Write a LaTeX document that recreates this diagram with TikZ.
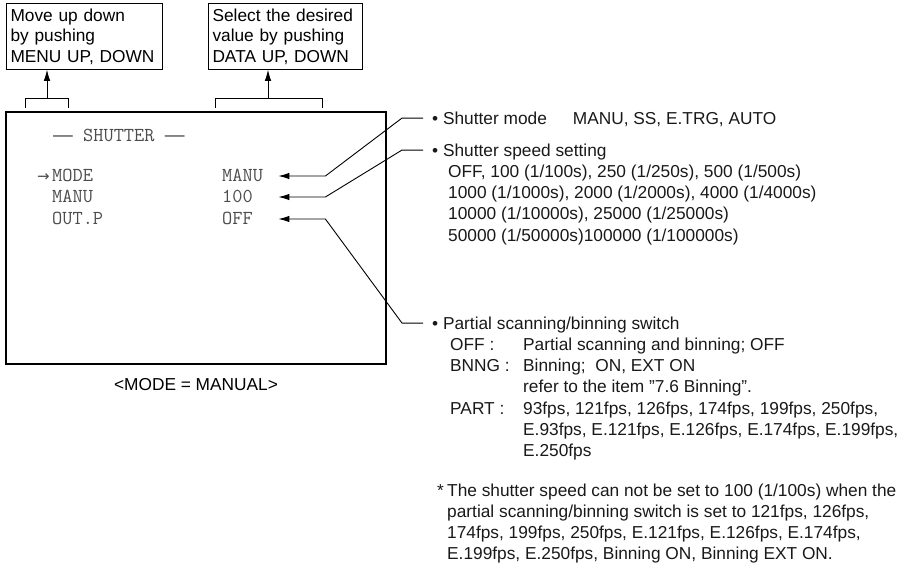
\documentclass[tikz,border=0pt]{standalone}
\usepackage{fontspec}
\setmainfont{Liberation Sans}
\newfontfamily\arrowfont{DejaVu Sans}
\usepackage{tikz}
\usetikzlibrary{positioning,arrows.meta}

\begin{document}
\begin{tikzpicture}[
x=1pt,y=-1pt,
tipbox/.style={
  draw,
  line width=1pt,
  anchor=north west,
  align=left,
  text width=#1,
  inner xsep=4pt,
  inner ysep=5pt,
  font=\fontsize{17.3}{20.5}\selectfont
},
screen/.style={
  draw,
  line width=1.6pt,
  minimum width=380pt,
  minimum height=252pt
},
menu/.style={
  anchor=base west,
  inner sep=0pt,
  text height=11pt,
  text depth=0pt,
  text=black!70,
  font=\fontsize{19.8}{21}\ttfamily
},
value/.style={
  menu,
  text width=56pt
},
head/.style={
  anchor=base west,
  inner xsep=9pt,
  inner ysep=0pt,
  text height=12.5pt,
  text depth=0pt,
  text=black!90,
  font=\fontsize{17.3}{21.2}\selectfont
},
body/.style={
  anchor=base west,
  inner sep=0pt,
  text=black!90,
  font=\fontsize{17.3}{21.2}\selectfont
},
pointer/.style={
  line width=0.9pt,
  -{Latex[length=11pt,width=6.5pt]}
},
bracket/.style={
  line width=1pt
}
]
\useasboundingbox (0,0) rectangle (914,566);

\node[tipbox=148pt] (menubtn) at (6,3)
  {Move up down\\by pushing\\MENU UP, DOWN};
\node[tipbox=146pt] (databtn) at (208,3)
  {Select the desired\\value by pushing\\DATA UP, DOWN};

\node[screen] (scr) at (196,238) {};
\node[below=10pt of scr,font=\fontsize{17.3}{21}\selectfont] (capt)
  {<MODE = MANUAL>};

\draw[bracket] (25,108) -- (25,98) -- (68,98) -- (68,108);
\draw[bracket] (215,108) -- (215,98) -- (322,98) -- (322,108);
\coordinate (mb) at (47,98);
\coordinate (db) at (268,98);
\draw[pointer] (mb) -- (mb |- menubtn.south);
\draw[pointer] (db) -- (db |- databtn.south);

\node[menu] (title) at (53,141)
  {{\rmfamily —}~SHUTTER~{\rmfamily —}};
\node[menu] (lmode) at (52,181.5) {MODE};
\node[menu] (lmanu) at (52,202.5) {MANU};
\node[menu] (loutp) at (52,224.5) {OUT.P};
\node[menu,left=2pt of lmode,font=\fontsize{15}{18}\arrowfont] (cursor) {→};
\node[value] (vmode) at (222,181.5) {MANU};
\node[value] (vmanu) at (222,202.5) {100};
\node[value] (voutp) at (222,224.5) {OFF};

\node[head] (smode) at (423,124.3)
  {• Shutter mode\hspace{1.5em}MANU, SS, E.TRG, AUTO};
\node[head] (sspeed) at (423,156.3)
  {• Shutter speed setting};
\node[body] (speeds) at (448,177.5) {\begin{tabular}[t]{@{}l@{}}
  OFF, 100 (1/100s), 250 (1/250s), 500 (1/500s)\\
  1000 (1/1000s), 2000 (1/2000s), 4000 (1/4000s)\\
  10000 (1/10000s), 25000 (1/25000s)\\
  50000 (1/50000s)100000 (1/100000s)
\end{tabular}};
\node[head] (pbin) at (423,329.3)
  {• Partial scanning/binning switch};
\node[body] (pmodes) at (450,350.5) {\begin{tabular}[t]{@{}l@{}l@{}}
  \makebox[73pt][l]{OFF :} & Partial scanning and binning; OFF\\
  \makebox[73pt][l]{BNNG :} & Binning;\ \ ON, EXT ON\\
  & refer to the item "7.6 Binning".\\
  \makebox[73pt][l]{PART :} & 93fps, 121fps, 126fps, 174fps, 199fps, 250fps,\\
  & E.93fps, E.121fps, E.126fps, E.174fps, E.199fps,\\
  & E.250fps
\end{tabular}};
\node[body] (note) at (437,496) {\begin{tabular}[t]{@{}l@{}l@{}}
  \makebox[10pt][l]{*} & The shutter speed can not be set to 100 (1/100s) when the\\
  & partial scanning/binning switch is set to 121fps, 126fps,\\
  & 174fps, 199fps, 250fps, E.121fps, E.126fps, E.174fps,\\
  & E.199fps, E.250fps, Binning ON, Binning EXT ON.
\end{tabular}};

\draw[pointer] (smode.west) -- ++(-21,0) -- ([xshift=47pt]vmode.east) -- (vmode.east);
\draw[pointer] (sspeed.west) -- ++(-21,0) -- ([xshift=47pt]vmanu.east) -- (vmanu.east);
\draw[pointer] (pbin.west) -- ++(-21,0) -- ([xshift=47pt]voutp.east) -- (voutp.east);

\end{tikzpicture}
\end{document}
